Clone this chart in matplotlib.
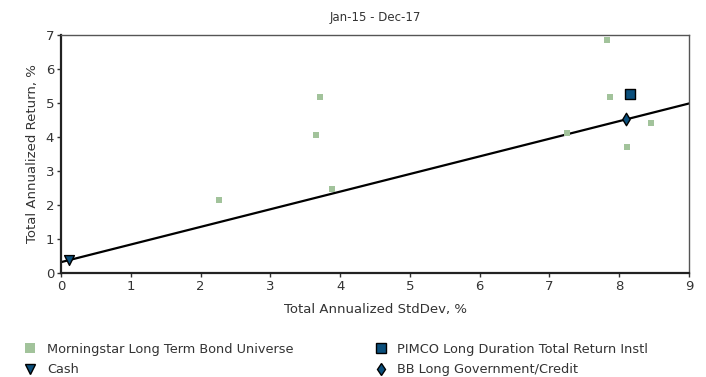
import matplotlib
matplotlib.use("Agg")
import matplotlib.pyplot as plt
import numpy as np
from matplotlib.lines import Line2D

title = "Jan-15 - Dec-17"
universe_x = [2.27, 3.65, 3.71, 3.88, 7.25, 7.82, 7.87, 8.11, 8.46]
universe_y = [2.15, 4.06, 5.18, 2.48, 4.12, 6.86, 5.18, 3.70, 4.40]
fund_x, fund_y = [8.16], [5.26]
cash_x, cash_y = [0.12], [0.38]
bench_x, bench_y = [8.10], [4.52]
labels = ["Morningstar Long Term Bond Universe", "PIMCO Long Duration Total Return Instl",
          "Cash", "BB Long Government/Credit"]

fig = plt.figure(figsize=(7.06, 3.77), dpi=100)
ax = fig.add_axes([0.0864, 0.276, 0.8896, 0.631])

ax.set_xlim(0, 9)
ax.set_ylim(0, 7)

# capital market line through cash and benchmark
slope = (bench_y[0] - cash_y[0]) / (bench_x[0] - cash_x[0])
inter = cash_y[0] - slope * cash_x[0]
lx = np.array([0, 9])
ax.plot(lx, inter + slope * lx, color="black", lw=1.6, zorder=2)

green = "#a2c39b"
navy = "#0b4f7c"
ax.scatter(universe_x, universe_y, marker="s", s=14, color=green, zorder=3, linewidths=0)
ax.scatter(fund_x, fund_y, marker="s", s=50, color=navy, edgecolors="black", linewidths=1, zorder=4)
ax.scatter(cash_x, cash_y, marker="v", s=50, color=navy, edgecolors="black", linewidths=1, zorder=4)
ax.scatter(bench_x, bench_y, marker="d", s=40, color=navy, edgecolors="black", linewidths=1, zorder=4)

ax.set_xticks(range(0, 10))
ax.set_yticks(range(0, 8))
ax.tick_params(direction="out", length=3, width=1, labelsize=9.5, pad=2, colors="#333333")
for s in ["left", "bottom"]:
    ax.spines[s].set_linewidth(1.6)
    ax.spines[s].set_color("#222222")
for s in ["top", "right"]:
    ax.spines[s].set_linewidth(1.0)
    ax.spines[s].set_color("#555555")

ax.set_title(title, fontsize=8.5, color="#333333", pad=10)
ax.set_xlabel("Total Annualized StdDev, %", fontsize=9.5, color="#333333", labelpad=7)
ax.set_ylabel("Total Annualized Return, %", fontsize=9.5, color="#333333", labelpad=5)

h1 = Line2D([], [], marker="s", ls="", color=green, markersize=6.5, markeredgewidth=0)
h2 = Line2D([], [], marker="s", ls="", color=navy, markeredgecolor="black", markersize=6.5)
h3 = Line2D([], [], marker="v", ls="", color=navy, markeredgecolor="black", markersize=7)
h4 = Line2D([], [], marker="d", ls="", color=navy, markeredgecolor="black", markersize=6)
prop = {"family": ["DejaVu Sans"], "size": 9.3}
kw = dict(loc="upper left", frameon=False, prop=prop, handlelength=1.0, handletextpad=0.8,
          labelspacing=0.6, borderpad=0, borderaxespad=0)
leg1 = fig.legend([h1, h3], [labels[0], labels[2]], bbox_to_anchor=(0.034, 0.091), **kw)
leg2 = fig.legend([h2, h4], [labels[1], labels[3]], bbox_to_anchor=(0.530, 0.091), **kw)
for leg in (leg1, leg2):
    for t in leg.get_texts():
        t.set_color("#333333")

fig.savefig("out.png", dpi=100)
